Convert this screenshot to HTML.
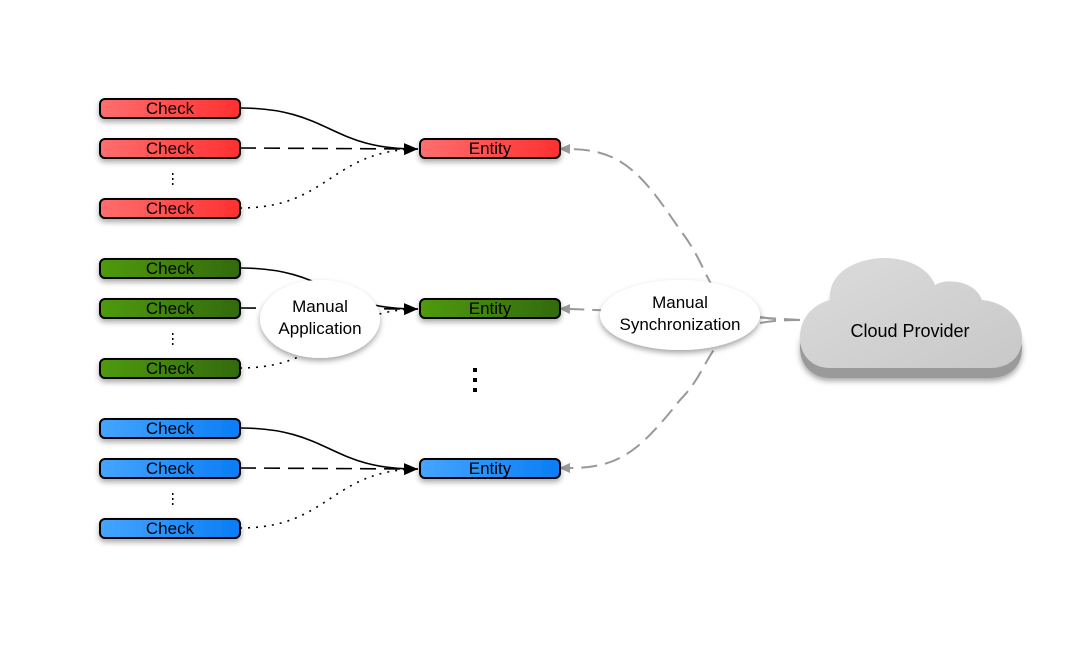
<!DOCTYPE html>
<html><head><meta charset="utf-8"><style>
html,body{margin:0;padding:0;background:#fff;}
svg{display:block;font-family:"Liberation Sans",Arial,sans-serif;}
</style></head><body>
<svg width="1092" height="660" viewBox="0 0 1092 660" xmlns="http://www.w3.org/2000/svg">
<defs>
<linearGradient id="r" x1="0" x2="1"><stop offset="0" stop-color="#ff6e6e"/><stop offset="1" stop-color="#ff3030"/></linearGradient>
<linearGradient id="g" x1="0" x2="1"><stop offset="0" stop-color="#4f9a08"/><stop offset="1" stop-color="#336a08"/></linearGradient>
<linearGradient id="b" x1="0" x2="1"><stop offset="0" stop-color="#45a5ff"/><stop offset="1" stop-color="#0a7df5"/></linearGradient>
<linearGradient id="cl" x1="0" y1="0" x2="1" y2="1"><stop offset="0" stop-color="#dcdcdc"/><stop offset="1" stop-color="#c8c8c8"/></linearGradient>
<filter id="sh" x="-20%" y="-40%" width="140%" height="200%"><feDropShadow dx="0" dy="3" stdDeviation="3" flood-opacity="0.35"/></filter>
<marker id="ak" markerWidth="14" markerHeight="12" refX="14" refY="6" orient="auto" markerUnits="userSpaceOnUse"><path d="M0,0 L14,6 L0,12 Z" fill="#000"/></marker>
<marker id="ag" markerWidth="11" markerHeight="10" refX="0" refY="5" orient="auto-start-reverse" markerUnits="userSpaceOnUse"><path d="M0,0 L11,5 L0,10 Z" fill="#999"/></marker>
</defs>

<g fill="none" stroke="#000" stroke-width="1.6">
<path d="M240 108 C330 108,330 150,418 149" marker-end="url(#ak)"/>
<path d="M240 148 L418 149" stroke-dasharray="16,8"/>
<path d="M240 208 C330 208,330 150,418 149" stroke-dasharray="2,6"/>
<path d="M240 268 C330 268,330 310,418 309" marker-end="url(#ak)"/>
<path d="M240 308 L418 309" stroke-dasharray="16,8"/>
<path d="M240 368 C330 368,330 310,418 309" stroke-dasharray="2,6"/>
<path d="M240 428 C330 428,330 470,418 469" marker-end="url(#ak)"/>
<path d="M240 468 L418 469" stroke-dasharray="16,8"/>
<path d="M240 528 C330 528,330 470,418 469" stroke-dasharray="2,6"/>
</g>
<g fill="none" stroke="#999" stroke-width="2" stroke-dasharray="16,8">
<path d="M800 320 C700 320,720 280,680 230 C640 170,620 150,570 149" marker-end="url(#ag)"/>
<path d="M800 320 C700 320,720 360,680 400 C640 450,620 468,570 468" marker-end="url(#ag)"/>
<path d="M800 320 L700 314 L570 309" marker-end="url(#ag)"/>
</g>

<g stroke="#000" stroke-width="2" filter="url(#sh)">
<rect x="100" y="99" width="140" height="19" rx="5" fill="url(#r)"/>
<rect x="100" y="139" width="140" height="19" rx="5" fill="url(#r)"/>
<rect x="100" y="199" width="140" height="19" rx="5" fill="url(#r)"/>
<rect x="420" y="139" width="140" height="19" rx="5" fill="url(#r)"/>
<rect x="100" y="259" width="140" height="19" rx="5" fill="url(#g)"/>
<rect x="100" y="299" width="140" height="19" rx="5" fill="url(#g)"/>
<rect x="100" y="359" width="140" height="19" rx="5" fill="url(#g)"/>
<rect x="420" y="299" width="140" height="19" rx="5" fill="url(#g)"/>
<rect x="100" y="419" width="140" height="19" rx="5" fill="url(#b)"/>
<rect x="100" y="459" width="140" height="19" rx="5" fill="url(#b)"/>
<rect x="100" y="519" width="140" height="19" rx="5" fill="url(#b)"/>
<rect x="420" y="459" width="140" height="19" rx="5" fill="url(#b)"/>
</g>
<g font-size="17" text-anchor="middle" fill="#000">
<text x="170" y="114">Check</text><text x="170" y="154">Check</text><text x="170" y="214">Check</text><text x="490" y="154">Entity</text>
<text x="170" y="274">Check</text><text x="170" y="314">Check</text><text x="170" y="374">Check</text><text x="490" y="314">Entity</text>
<text x="170" y="434">Check</text><text x="170" y="474">Check</text><text x="170" y="534">Check</text><text x="490" y="474">Entity</text>
</g>
<g fill="#000">
<rect x="172" y="173" width="1.5" height="2"/><rect x="172" y="178" width="1.5" height="2"/><rect x="172" y="183" width="1.5" height="2"/>
<rect x="172" y="333" width="1.5" height="2"/><rect x="172" y="338" width="1.5" height="2"/><rect x="172" y="343" width="1.5" height="2"/>
<rect x="172" y="493" width="1.5" height="2"/><rect x="172" y="498" width="1.5" height="2"/><rect x="172" y="503" width="1.5" height="2"/>
<rect x="473" y="368" width="4" height="4"/><rect x="473" y="378" width="4" height="4"/><rect x="473" y="388" width="4" height="4"/>
</g>

<ellipse cx="320" cy="319" rx="60" ry="39" fill="#fff" filter="url(#sh)"/>
<text x="320" y="312" font-size="17" text-anchor="middle">Manual</text>
<text x="320" y="334" font-size="17" text-anchor="middle">Application</text>
<ellipse cx="680" cy="315" rx="80" ry="35" fill="#fff" filter="url(#sh)"/>
<text x="680" y="308" font-size="17" text-anchor="middle">Manual</text>
<text x="680" y="330" font-size="17" text-anchor="middle">Synchronization</text>

<path d="M830 310 C828 280,860 268,885 268 C910 268,930 280,935 295 C945 288,975 290,982 310 C1005 312,1022 328,1022 348 C1022 368,1008 378,990 378 L830 378 C812 378,800 365,800 348 C800 328,812 315,830 310 Z" fill="#9a9a9a" filter="url(#sh)"/>
<path d="M830 300 C828 270,860 258,885 258 C910 258,930 270,935 285 C945 278,975 280,982 300 C1005 302,1022 318,1022 338 C1022 358,1008 368,990 368 L830 368 C812 368,800 355,800 338 C800 318,812 305,830 300 Z" fill="url(#cl)"/>
<text x="910" y="337" font-size="18" text-anchor="middle">Cloud Provider</text>
</svg>
</body></html>
